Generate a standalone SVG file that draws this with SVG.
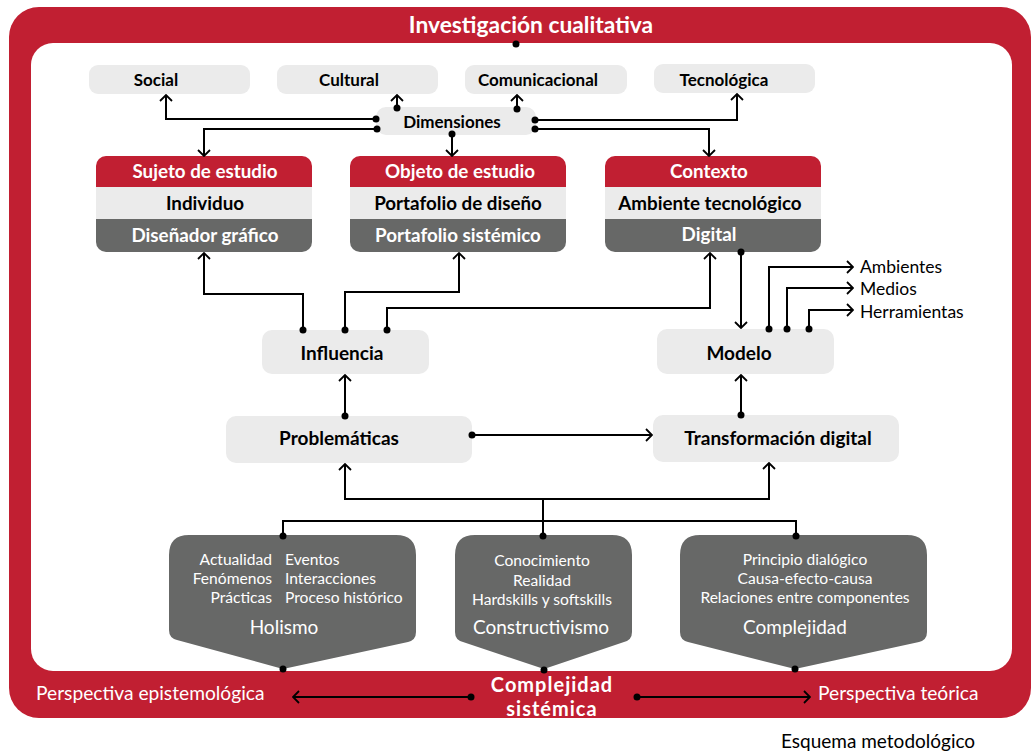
<svg xmlns="http://www.w3.org/2000/svg" width="1032" height="753" viewBox="0 0 1032 753">
<defs>
<style>
.t{font-family:Lato,"Liberation Sans",sans-serif}
.b{font-weight:700}
.lg{fill:#ebebeb}
.red{fill:#c11f32}
.dk{fill:#676867}
.c{stroke:#000;stroke-width:2;fill:none}
.d{fill:#000}
.dim{font-size:17px}
.hd{font-size:18.8px}
.nd{font-size:19px}
.sm{font-size:15.6px}
</style>
<marker id="ah" viewBox="0 0 8 14" refX="7" refY="7" markerWidth="8" markerHeight="14" markerUnits="userSpaceOnUse" orient="auto">
<path d="M1,1 L7,7 L1,13" fill="none" stroke="#000" stroke-width="1.8"/>
</marker>
</defs>
<rect width="1032" height="753" fill="#fff"/>
<g id="frame">
<rect x="9" y="7" width="1022" height="711" rx="30" class="red"/>
<rect x="31" y="43" width="981" height="628" rx="22" fill="#fff"/>
<text x="531" y="33" text-anchor="middle" class="t b" font-size="22.8" fill="#fff">Investigación cualitativa</text>
</g>
<g id="social"><rect x="89" y="65" width="161" height="29" rx="9" class="lg"/><text x="156" y="86" text-anchor="middle" class="t b dim">Social</text></g>
<g id="cultural"><rect x="277" y="65" width="161" height="29" rx="9" class="lg"/><text x="349" y="86" text-anchor="middle" class="t b dim">Cultural</text></g>
<g id="comunicacional"><rect x="465" y="65" width="162" height="29" rx="9" class="lg"/><text x="538" y="86" text-anchor="middle" class="t b dim">Comunicacional</text></g>
<g id="tecnologica"><rect x="654" y="64" width="161" height="29" rx="9" class="lg"/><text x="724" y="86" text-anchor="middle" class="t b dim">Tecnológica</text></g>
<g id="dimensiones"><rect x="376" y="107" width="160" height="28" rx="10" class="lg"/><text x="452" y="128" text-anchor="middle" class="t b dim">Dimensiones</text></g>

<g id="sujeto">
<path d="M96,187 V166 a10,10 0 0 1 10,-10 H302 a10,10 0 0 1 10,10 V187 Z" class="red"/>
<rect x="96" y="187" width="216" height="32" class="lg"/>
<path d="M96,219 H312 V242 a10,10 0 0 1 -10,10 H106 a10,10 0 0 1 -10,-10 Z" class="dk"/>
<text x="205" y="178" text-anchor="middle" class="t b hd" fill="#fff">Sujeto de estudio</text>
<text x="205" y="210" text-anchor="middle" class="t b hd">Individuo</text>
<text x="205" y="242" text-anchor="middle" class="t b hd" fill="#fff">Diseñador gráfico</text>
</g>
<g id="objeto">
<path d="M350,187 V166 a10,10 0 0 1 10,-10 H556 a10,10 0 0 1 10,10 V187 Z" class="red"/>
<rect x="350" y="187" width="216" height="32" class="lg"/>
<path d="M350,219 H566 V242 a10,10 0 0 1 -10,10 H360 a10,10 0 0 1 -10,-10 Z" class="dk"/>
<text x="460" y="178" text-anchor="middle" class="t b hd" fill="#fff">Objeto de estudio</text>
<text x="458" y="210" text-anchor="middle" class="t b hd">Portafolio de diseño</text>
<text x="458" y="242" text-anchor="middle" class="t b hd" fill="#fff">Portafolio sistémico</text>
</g>
<g id="contexto">
<path d="M605,187 V166 a10,10 0 0 1 10,-10 H811 a10,10 0 0 1 10,10 V187 Z" class="red"/>
<rect x="605" y="187" width="216" height="32" class="lg"/>
<path d="M605,219 H821 V242 a10,10 0 0 1 -10,10 H615 a10,10 0 0 1 -10,-10 Z" class="dk"/>
<text x="709" y="178" text-anchor="middle" class="t b hd" fill="#fff">Contexto</text>
<text x="710" y="210" text-anchor="middle" class="t b hd">Ambiente tecnológico</text>
<text x="709" y="241" text-anchor="middle" class="t b hd" fill="#fff">Digital</text>
</g>

<g id="influencia"><rect x="262" y="330" width="167" height="44" rx="10" class="lg"/><text x="342" y="360" text-anchor="middle" class="t b nd">Influencia</text></g>
<g id="modelo"><rect x="657" y="329" width="177" height="45" rx="10" class="lg"/><text x="739" y="360" text-anchor="middle" class="t b nd">Modelo</text></g>
<g id="problematicas"><rect x="226" y="416" width="246" height="47" rx="10" class="lg"/><text x="339" y="445" text-anchor="middle" class="t b nd">Problemáticas</text></g>
<g id="transformacion"><rect x="653" y="415" width="246" height="47" rx="10" class="lg"/><text x="778" y="445" text-anchor="middle" class="t b nd">Transformación digital</text></g>

<g id="salidas" class="t" font-size="17.5">
<text x="860" y="273">Ambientes</text>
<text x="860" y="295">Medios</text>
<text x="860" y="318">Herramientas</text>
</g>

<g id="holismo">
<path d="M169,555 Q169,535 189,535 H396 Q416,535 416,555 V632 Q416,640 408,642 L283,669 L177,640 Q169,638 169,630 Z" class="dk"/>
<g class="t sm" fill="#fff">
<text x="272" y="565" text-anchor="end">Actualidad</text>
<text x="272" y="584" text-anchor="end">Fenómenos</text>
<text x="272" y="603" text-anchor="end">Prácticas</text>
<text x="285" y="565">Eventos</text>
<text x="285" y="584">Interacciones</text>
<text x="285" y="603">Proceso histórico</text>
<text x="284" y="634" text-anchor="middle" font-size="19">Holismo</text>
</g>
</g>
<g id="constructivismo">
<path d="M455,555 Q455,535 475,535 H612 Q632,535 632,555 V632 Q632,640 624,642 L544,669 L463,642 Q455,640 455,632 Z" class="dk"/>
<g class="t sm" fill="#fff" text-anchor="middle">
<text x="542" y="566">Conocimiento</text>
<text x="542" y="586">Realidad</text>
<text x="542" y="605">Hardskills y softskills</text>
<text x="541" y="634" font-size="19">Constructivismo</text>
</g>
</g>
<g id="complejidad">
<path d="M680,555 Q680,535 700,535 H907 Q927,535 927,555 V632 Q927,640 919,642 L795,669 L688,642 Q680,640 680,632 Z" class="dk"/>
<g class="t sm" fill="#fff" text-anchor="middle">
<text x="805" y="565">Principio dialógico</text>
<text x="805" y="584">Causa-efecto-causa</text>
<text x="805" y="603">Relaciones entre componentes</text>
<text x="795" y="634" font-size="19">Complejidad</text>
</g>
</g>

<g id="base" class="t" fill="#fff">
<text x="36" y="700" font-size="19.2">Perspectiva epistemológica</text>
<text x="818" y="700" font-size="19.2">Perspectiva teórica</text>
<text x="552" y="692" text-anchor="middle" class="b" font-size="20" letter-spacing="1">Complejidad</text>
<text x="552" y="716" text-anchor="middle" class="b" font-size="20" letter-spacing="1">sistémica</text>
</g>
<g id="caption"><text x="781" y="748" class="t" font-size="19">Esquema metodológico</text></g>

<g id="connectors">
<path class="c" d="M376,119 H166 V95" marker-end="url(#ah)"/>
<path class="c" d="M377,129 H204 V156" marker-end="url(#ah)"/>
<path class="c" d="M397,108 V95" marker-end="url(#ah)"/>
<path class="c" d="M517,109 V95" marker-end="url(#ah)"/>
<path class="c" d="M535,120 H737 V94" marker-end="url(#ah)"/>
<path class="c" d="M535,129 H709 V156" marker-end="url(#ah)"/>
<path class="c" d="M452,134 V156" marker-end="url(#ah)"/>
<path class="c" d="M303,330 V294 H204 V253" marker-end="url(#ah)"/>
<path class="c" d="M345,330 V292 H459 V253" marker-end="url(#ah)"/>
<path class="c" d="M387,330 V308 H710 V253" marker-end="url(#ah)"/>
<path class="c" d="M741,252 V328" marker-end="url(#ah)"/>
<path class="c" d="M769,329 V267 H853" marker-end="url(#ah)"/>
<path class="c" d="M787,329 V288 H853" marker-end="url(#ah)"/>
<path class="c" d="M809,329 V310 H853" marker-end="url(#ah)"/>
<path class="c" d="M345,416 V375" marker-end="url(#ah)"/>
<path class="c" d="M472,435 H652" marker-end="url(#ah)"/>
<path class="c" d="M741,415 V375" marker-end="url(#ah)"/>
<path class="c" d="M543,536 V499 H345 V464" marker-end="url(#ah)"/>
<path class="c" d="M543,499 H769 V463" marker-end="url(#ah)"/>
<path class="c" d="M283,536 V521 H796 V536"/>
<path class="c" d="M471,697 H293" marker-end="url(#ah)"/>
<path class="c" d="M637,697 H810" marker-end="url(#ah)"/>
<g class="d">
<circle cx="516" cy="44" r="3.5"/>
<circle cx="376" cy="119" r="3.5"/><circle cx="377" cy="129" r="3.5"/>
<circle cx="397" cy="108" r="3.5"/><circle cx="517" cy="109" r="3.5"/>
<circle cx="535" cy="120" r="3.5"/><circle cx="535" cy="129" r="3.5"/>
<circle cx="452" cy="134" r="3.5"/>
<circle cx="303" cy="330" r="3.5"/><circle cx="345" cy="330" r="3.5"/><circle cx="387" cy="330" r="3.5"/>
<circle cx="741" cy="252" r="3.5"/>
<circle cx="769" cy="329" r="3.5"/><circle cx="787" cy="329" r="3.5"/><circle cx="809" cy="329" r="3.5"/>
<circle cx="345" cy="416" r="3.5"/><circle cx="472" cy="435" r="3.5"/><circle cx="741" cy="415" r="3.5"/>
<circle cx="283" cy="536" r="3.5"/><circle cx="543" cy="536" r="3.5"/><circle cx="796" cy="536" r="3.5"/>
<circle cx="283" cy="669" r="3.5"/><circle cx="544" cy="670" r="3.5"/><circle cx="795" cy="669" r="3.5"/>
<circle cx="471" cy="697" r="3.5"/><circle cx="637" cy="697" r="3.5"/>
</g>
</g>
</svg>
